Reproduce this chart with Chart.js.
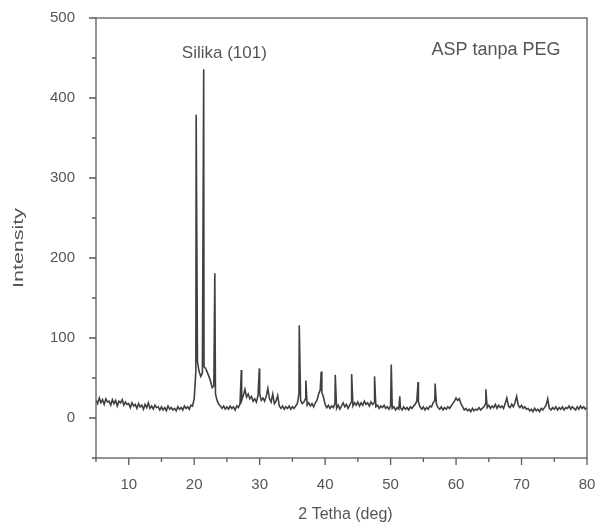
<!DOCTYPE html>
<html><head><meta charset="utf-8">
<script src="https://cdn.jsdelivr.net/npm/chart.js@4.4.1/dist/chart.umd.min.js"></script>
<style>html,body{margin:0;padding:0;background:#fff;}</style>
</head><body>
<canvas id="c" width="600" height="531" style="width:600px;height:531px;display:block"></canvas>
<script>
// 2-theta grid of the measured background: start and step (degrees)
const thetaStart = 5, thetaStep = 0.25;
// intensity at every 0.25 deg from 5 to 80
const baseIntensity = [
 22,18,25,19,23,17,24,20,21,16,23,18,22,15,21,19,23,16,20,17,
 18,13,19,15,17,12,18,14,16,11,17,13,19,12,15,11,16,13,14,10,
 14,10,13,9,15,11,13,10,12,9,14,11,13,10,15,12,14,11,16,15,
 24,58,70,58,52,56,64,62,57,52,46,38,40,30,22,17,15,12,15,11,
 14,11,15,12,14,10,15,13,18,22,28,36,26,30,24,27,21,24,20,28,
 30,22,25,21,27,37,24,20,30,18,21,28,15,12,15,11,14,12,15,11,
 14,12,15,18,30,22,18,20,24,16,19,15,18,14,19,22,30,35,32,26,
 17,13,16,12,15,13,18,12,16,11,15,19,14,17,12,16,20,15,19,16,
 20,15,19,16,21,17,19,15,20,17,19,14,16,12,15,13,16,12,14,11,
 15,12,14,10,13,11,13,10,14,11,13,10,14,12,15,17,21,20,14,11,
 14,10,13,11,15,14,19,22,17,13,11,14,10,13,11,14,12,15,18,21,
 25,22,24,18,14,10,12,9,11,8,12,9,11,10,13,10,12,14,18,13,
 16,12,15,13,17,12,16,13,15,12,18,25,15,13,17,14,19,27,16,13,
 16,12,14,11,12,9,11,8,12,9,11,8,12,10,13,16,24,12,10,13,
 11,14,10,13,11,14,10,13,12,15,11,14,12,10,14,11,15,12,14,11,
 13
];
// sharp reflections (position in deg, intensity)
const peakTheta     = [20.3, 21.45, 23.15, 27.2, 29.95, 36.05, 37.05, 39.4, 41.55, 44.05, 47.55, 50.1, 51.4, 54.2, 56.8, 64.55];
const peakIntensity = [379,  436,   181,   60,   62,    116,   47,    58,   54,    55,    52,    67,   27,   45,   43,   36];

const xTickValues = [10,20,30,40,50,60,70,80];
const xMinorValues = [5,15,25,35,45,55,65,75];
const yTickValues = [0,100,200,300,400,500];
const yMinorValues = [-50,50,150,250,350,450];
const xTitle = '2 Tetha (deg)';
const yTitle = 'Intensity';
const peakLabel = 'Silika (101)';
const sampleLabel = 'ASP tanpa PEG';

const points = baseIntensity.map((v,i)=>({x: thetaStart + i*thetaStep, y: v}))
  .concat(peakTheta.map((t,i)=>({x: t, y: peakIntensity[i]})))
  .sort((a,b)=>a.x-b.x);

const FONT = '"Liberation Sans", Arial, sans-serif';
const AXC = '#5a5a5a';

const decor = {
  id: 'decor',
  afterDraw(chart) {
    const ctx = chart.ctx, a = chart.chartArea, xs = chart.scales.x, ys = chart.scales.y;
    ctx.save();
    ctx.strokeStyle = AXC; ctx.lineWidth = 1.3;
    ctx.strokeRect(a.left, a.top, a.right - a.left, a.bottom - a.top);
    ctx.beginPath();
    xTickValues.forEach(v => { const p = xs.getPixelForValue(v); ctx.moveTo(p, a.bottom); ctx.lineTo(p, a.bottom + 7); });
    xMinorValues.forEach(v => { const p = xs.getPixelForValue(v); ctx.moveTo(p, a.bottom); ctx.lineTo(p, a.bottom + 4); });
    yTickValues.forEach(v => { const p = ys.getPixelForValue(v); ctx.moveTo(a.left, p); ctx.lineTo(a.left - 7, p); });
    yMinorValues.forEach(v => { const p = ys.getPixelForValue(v); ctx.moveTo(a.left, p); ctx.lineTo(a.left - 4, p); });
    ctx.stroke();

    ctx.fillStyle = '#555';
    ctx.textAlign = 'center'; ctx.textBaseline = 'middle';
    ctx.font = '17px ' + FONT;
    ctx.fillText(peakLabel, xs.getPixelForValue(24.6), ys.getPixelForValue(456));
    ctx.font = '18px ' + FONT;
    ctx.fillText(sampleLabel, xs.getPixelForValue(66.1), ys.getPixelForValue(460));
    ctx.font = '16px ' + FONT;
    ctx.fillText(xTitle, (a.left + a.right) / 2 + 4, 515);
    ctx.translate(18.5, 248);
    ctx.rotate(-Math.PI / 2);
    ctx.font = '15px ' + FONT;
    const w = ctx.measureText(yTitle).width;
    ctx.scale(80 / w, 1);
    ctx.fillText(yTitle, 0, 0);
    ctx.restore();
  }
};

new Chart(document.getElementById('c'), {
  type: 'line',
  data: { datasets: [{ data: points, borderColor: '#404040', borderWidth: 1.6, pointRadius: 0, tension: 0, fill: false }] },
  options: {
    responsive: false, animation: false, devicePixelRatio: 1,
    layout: { padding: { left: 0, right: 13, top: 18, bottom: 0 } },
    plugins: { legend: { display: false }, tooltip: { enabled: false } },
    scales: {
      x: {
        type: 'linear', min: 5, max: 80,
        grid: { display: false }, border: { display: false },
        afterBuildTicks: s => { s.ticks = xTickValues.map(v => ({ value: v })); },
        afterFit: s => { s.height = 73; s.paddingLeft = 0; s.paddingRight = 0; },
        ticks: { padding: 10, color: '#555', font: { family: FONT, size: 15 }, maxRotation: 0, autoSkip: false }
      },
      y: {
        type: 'linear', min: -50, max: 500,
        grid: { display: false }, border: { display: false },
        afterBuildTicks: s => { s.ticks = yTickValues.map(v => ({ value: v })); },
        afterFit: s => { s.width = 96; s.paddingTop = 0; s.paddingBottom = 0; },
        ticks: { padding: 13, color: '#555', font: { family: FONT, size: 15 }, autoSkip: false }
      }
    }
  },
  plugins: [decor]
});
</script>
</body></html>
